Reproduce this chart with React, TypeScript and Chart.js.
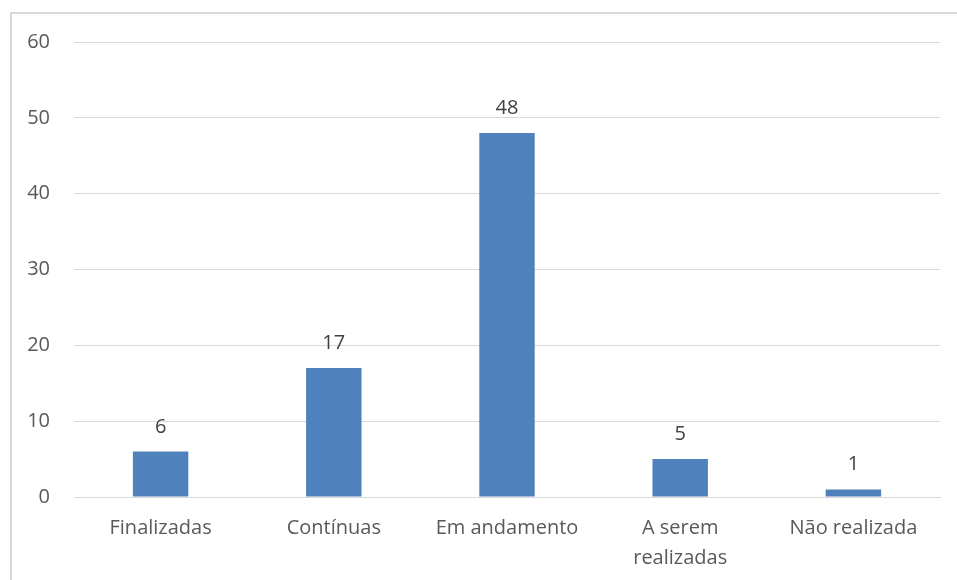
import React, { useEffect, useRef } from "react";
import { Chart, registerables } from "chart.js";

Chart.register(...registerables);

const categories: (string | string[])[] = [
  "Finalizadas",
  "Contínuas",
  "Em andamento",
  ["A serem", "realizadas"],
  "Não realizada",
];
const values: number[] = [6, 17, 48, 5, 1];
const yMin = 0;
const yMax = 60;
const yStep = 10;

const FONT = "'Open Sans', 'Noto Sans', sans-serif";

const dataLabels = {
  id: "dataLabels",
  afterDatasetsDraw(chart: any) {
    const ctx = chart.ctx;
    const meta = chart.getDatasetMeta(0);
    ctx.save();
    ctx.font = `20px ${FONT}`;
    ctx.fillStyle = "#404040";
    ctx.textAlign = "center";
    ctx.textBaseline = "alphabetic";
    meta.data.forEach((bar: any, i: number) => {
      ctx.fillText(String(values[i]), bar.x, bar.y - 19);
    });
    ctx.restore();
  },
};

export default function App() {
  const ref = useRef<HTMLCanvasElement>(null);
  useEffect(() => {
    if (!ref.current) return;
    const chart = new Chart(ref.current, {
      type: "bar",
      data: {
        labels: categories as any,
        datasets: [
          {
            data: values,
            backgroundColor: "#4F81BD",
            barPercentage: 0.32,
            categoryPercentage: 1,
          },
        ],
      },
      options: {
        animation: false,
        responsive: false,
        layout: { padding: { top: 42, right: 17, left: 0, bottom: 0 } },
        plugins: { legend: { display: false }, tooltip: { enabled: false } },
        scales: {
          x: {
            grid: { display: false, drawTicks: false },
            border: { display: true, color: "#d9d9d9", width: 1 },
            ticks: {
              color: "#595959",
              font: { family: FONT, size: 20, lineHeight: 1.5 },
              padding: 16,
              maxRotation: 0,
              autoSkip: false,
            },
            afterFit(scale: any) {
              scale.height = 580 - 497;
            },
          },
          y: {
            min: yMin,
            max: yMax,
            grid: { color: "#d9d9d9", drawTicks: false, lineWidth: 1 },
            border: { display: false },
            ticks: {
              stepSize: yStep,
              color: "#595959",
              font: { family: FONT, size: 20 },
              padding: 24,
            },
            afterFit(scale: any) {
              scale.width = 74;
            },
          },
        },
      },
      plugins: [dataLabels],
    });
    return () => chart.destroy();
  }, []);
  return (
    <div style={{ position: "absolute", left: 0, top: 0, width: 957, height: 580, overflow: "hidden", background: "#fff" }}>
      <div
        style={{
          position: "absolute",
          left: 10,
          top: 12,
          width: 1000,
          height: 700,
          borderLeft: "2px solid #d9d9d9",
          borderTop: "2px solid #d9d9d9",
        }}
      />
      <canvas ref={ref} width={957} height={580} style={{ position: "absolute", left: 0, top: 0 }} />
    </div>
  );
}
